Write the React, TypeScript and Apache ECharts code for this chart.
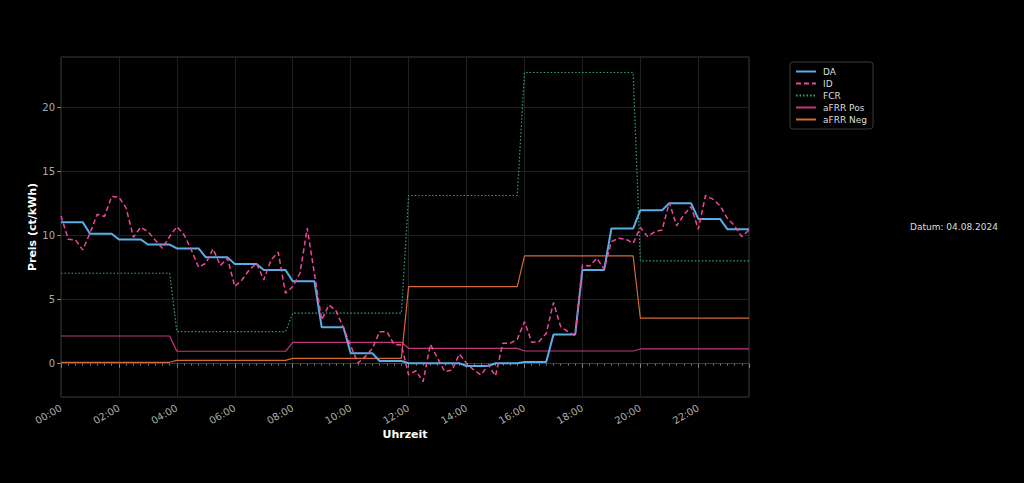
import React, { useEffect, useRef } from "react";
import * as echarts from "echarts";

// Day-ahead price, hourly values (ct/kWh), each hour held for four quarter-hours
const daHourly = [
  11.05, 10.15, 9.7, 9.3, 9.0, 8.3, 7.78, 7.32, 6.43, 2.84, 0.81, 0.21,
  0.03, 0.03, -0.18, 0.03, 0.13, 2.27, 7.32, 10.55, 11.98, 12.53, 11.3, 10.5,
];

// Intraday price, quarter-hourly values (ct/kWh)
const idQuarter = [
  11.54, 9.72, 9.66, 8.88, 10.19, 11.67, 11.49, 13.05,
  13.0, 12.14, 9.87, 10.65, 10.31, 9.66, 9.01, 9.93,
  10.7, 10.05, 8.88, 7.53, 7.84, 8.96, 7.66, 8.23,
  6.02, 6.55, 7.32, 7.84, 6.54, 8.1, 8.7, 5.5,
  6.02, 7.06, 10.58, 7.0, 3.41, 4.59, 4.1, 2.8,
  1.4, 0.05, 0.55, 1.2, 2.5, 2.5, 1.5, 1.45,
  -0.88, -0.55, -1.4, 1.51, 0.42, -0.62, -0.49, 0.76,
  0.03, -0.49, -0.88, -0.1, -0.96, 1.59, 1.59, 1.9,
  3.28, 1.67, 1.72, 2.37, 4.77, 2.89, 2.5, 2.19,
  7.71, 7.63, 8.23, 7.37, 9.53, 9.79, 9.72, 9.4,
  10.63, 9.92, 10.31, 10.44, 12.58, 10.77, 11.62, 12.27,
  10.5, 13.13, 12.85, 12.33, 11.36, 10.77, 9.92, 10.44,
];

// Balancing prices in 4-hour blocks (ct/kWh)
const fcrBlocks = [7.06, 2.5, 3.94, 13.13, 22.73, 8.02];
const afrrPosBlocks = [2.16, 0.97, 1.67, 1.2, 0.99, 1.15];
const afrrNegBlocks = [0.11, 0.26, 0.42, 6.02, 8.41, 3.55];

const xTickLabels = [
  "00:00", "02:00", "04:00", "06:00", "08:00", "10:00",
  "12:00", "14:00", "16:00", "18:00", "20:00", "22:00",
];
const yTickValues = [0, 5, 10, 15, 20];

const seriesNames = ["DA", "ID", "FCR", "aFRR Pos", "aFRR Neg"];
const dateLabel = "Datum: 04.08.2024";

const QUARTERS = 96;

function fromHourly(values: number[]): number[][] {
  const out: number[][] = [];
  for (let i = 0; i < QUARTERS; i++) out.push([i / 4, values[Math.floor(i / 4)]]);
  return out;
}
function fromBlocks(values: number[]): number[][] {
  const out: number[][] = [];
  for (let i = 0; i < QUARTERS; i++) out.push([i / 4, values[Math.floor(i / 16)]]);
  return out;
}
function fromQuarter(values: number[]): number[][] {
  return values.map((v, i) => [i / 4, v]);
}

const FONT = "DejaVu Sans";

export default function App() {
  const ref = useRef<HTMLDivElement>(null);

  useEffect(() => {
    if (!ref.current) return;
    const chart = echarts.init(ref.current, undefined, { renderer: "svg" });
    const gridColor = "#1f1f1f";
    const tickColor = "#aaaaaa";

    const lineSeries = (name: string, data: number[][], color: string, width: number, type: any, z: number) => ({
      name,
      type: "line",
      data,
      showSymbol: false,
      symbol: "none",
      z,
      lineStyle: { color, width, type },
      itemStyle: { color },
    });

    chart.setOption({
      animation: false,
      backgroundColor: "#000000",
      textStyle: { fontFamily: FONT },
      grid: {
        left: 61,
        top: 57,
        right: 275,
        bottom: 86,
        show: true,
        borderColor: "#3a3a3a",
        borderWidth: 1,
        backgroundColor: "#000000",
      },
      legend: {
        orient: "vertical",
        left: 790,
        top: 62,
        padding: [5, 6, 5, 5],
        itemGap: 3,
        itemWidth: 20,
        itemHeight: 10,
        backgroundColor: "#000000",
        borderColor: "#3a3a3a",
        borderWidth: 1,
        borderRadius: 3,
        itemStyle: { opacity: 0 },
        textStyle: { color: "#dddddd", fontSize: 9, fontFamily: FONT, padding: [0, 0, 0, 2] },
        data: seriesNames,
      },
      xAxis: {
        type: "value",
        min: 0,
        max: 23.75,
        interval: 2,
        name: "Uhrzeit",
        nameLocation: "middle",
        nameGap: 32,
        nameMoveOverlap: false,
        nameTextStyle: { color: "#ffffff", fontWeight: "bold", fontSize: 11, fontFamily: FONT },
        axisLine: { show: true, lineStyle: { color: "#3a3a3a" } },
        axisTick: { show: true, length: 4, lineStyle: { color: "#888888" } },
        minorTick: { show: true, splitNumber: 8, length: 2, lineStyle: { color: "#777777" } },
        axisLabel: {
          color: tickColor,
          fontSize: 10,
          rotate: 30,
          margin: 10,
          fontFamily: FONT,
          showMaxLabel: false,
          formatter: (v: number) => {
            const idx = v / 2;
            return Number.isInteger(idx) && xTickLabels[idx] ? xTickLabels[idx] : "";
          },
        },
        splitLine: { show: true, lineStyle: { color: gridColor, width: 1 } },
      },
      yAxis: {
        type: "value",
        min: -2.6,
        max: 23.94,
        name: "Preis (ct/kWh)",
        nameLocation: "middle",
        nameGap: 23,
        nameMoveOverlap: false,
        nameTextStyle: { color: "#ffffff", fontWeight: "bold", fontSize: 11, fontFamily: FONT },
        axisLine: { show: false },
        axisTick: { show: true, length: 4, lineStyle: { color: "#888888" }, customValues: yTickValues },
        axisLabel: { color: tickColor, fontSize: 10, margin: 6, fontFamily: FONT, customValues: yTickValues },
        splitLine: { show: true, lineStyle: { color: gridColor, width: 1 } },
      },
      graphic: [
        {
          type: "text",
          left: 910,
          top: 222,
          style: { text: dateLabel, fill: "#dddddd", fontSize: 9, fontFamily: FONT },
        },
      ],
      series: [
        lineSeries(seriesNames[2], fromBlocks(fcrBlocks), "#2fa383", 1.2, [1.5, 2], 2),
        lineSeries(seriesNames[3], fromBlocks(afrrPosBlocks), "#c2387f", 1.2, "solid", 3),
        lineSeries(seriesNames[4], fromBlocks(afrrNegBlocks), "#d8683a", 1.2, "solid", 4),
        lineSeries(seriesNames[0], fromHourly(daHourly), "#5aaee6", 2, "solid", 5),
        lineSeries(seriesNames[1], fromQuarter(idQuarter), "#f0479a", 1.5, [5, 3], 6),
      ],
    });

    return () => chart.dispose();
  }, []);

  return <div ref={ref} style={{ width: 1024, height: 483, position: "absolute", left: 0, top: 0 }} />;
}
